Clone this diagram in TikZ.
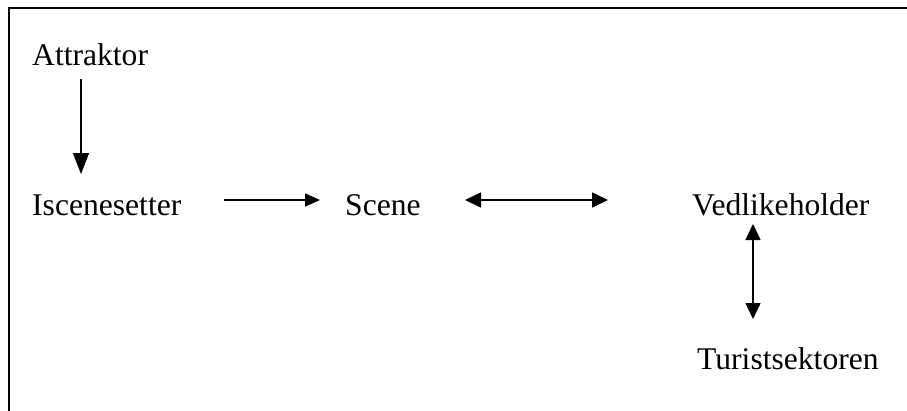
\documentclass[tikz,border=0pt]{standalone}
\usepackage{fontspec}
\setmainfont{Liberation Serif}
\usetikzlibrary{arrows.meta,calc}
\begin{document}
\begin{tikzpicture}[x=1bp,y=-1bp,
  txt/.style={anchor=base west,inner sep=0pt,font=\fontsize{31.6bp}{38bp}\selectfont},
  conn/.style={line width=1.6bp,-{Triangle[length=15bp,width=13bp]}},
  dconn/.style={line width=1.6bp,{Triangle[length=16bp,width=15bp]}-{Triangle[length=16bp,width=15bp]}}]
\useasboundingbox (0,0) rectangle (907,410);
% frame, open at the right and bottom
\draw[line width=2bp] (9,414) -- (9,8) -- (911,8);
% actors
\node[txt] (attr)  at (32,65)  {Attraktor};
\node[txt] (isc)   at (32,215) {Iscenesetter};
\node[txt] (scene) at (345,215) {Scene};
\node[txt] (ved)   at (692,215) {Vedlikeholder};
\node[txt] (tur)   at (697,369) {Turistsektoren};
% relations
\draw[line width=1.6bp,-{Triangle[length=21bp,width=16bp]}]
  ($(attr.base west)+(49,14)$) -- ($(isc.base west)+(49,-41)$);
\draw[conn] ($(isc.base west)+(192,-15)$) -- ($(scene.base west)+(-25,-15)$);
\draw[dconn] ($(scene.base west)+(120,-15)$) -- ($(ved.base west)+(-84,-15)$);
\draw[dconn] ($(ved.base west)+(61,9)$) -- ($(tur.base west)+(56,-50)$);
\end{tikzpicture}
\end{document}
